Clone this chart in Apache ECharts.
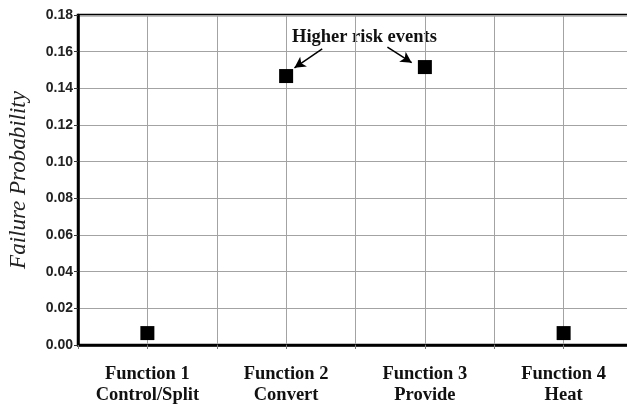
<!DOCTYPE html>
<html><head><meta charset="utf-8">
<script src="https://cdn.jsdelivr.net/npm/echarts@6/dist/echarts.min.js"></script>
<style>html,body{margin:0;padding:0;background:#fff}#c{width:627px;height:404px}</style>
</head><body><div id="c"></div>
<script>
const categories = ['Function 1\nControl/Split', 'Function 2\nConvert', 'Function 3\nProvide', 'Function 4\nHeat'];
const failureProbability = [0.0065, 0.1467, 0.1516, 0.0065];
const yTicks = {min: 0, max: 0.18, interval: 0.02};
const annotationText = 'Higher risk events';
// arrows in [gridSlot, value] coordinates (slot axis 0..8, two slots per category)
const arrows = [
  [[3.52, 0.1615], [3.12, 0.1512]],
  [[4.46, 0.1625], [4.81, 0.1540]]
];

const chart = echarts.init(document.getElementById('c'), null, {renderer: 'canvas'});
chart.setOption({
  animation: false,
  backgroundColor: '#fff',
  grid: {left: 78, top: 15, bottom: 59, right: -6, outerBoundsMode: 'none', containLabel: false,
    show: true, borderColor: '#000', borderWidth: 2.5, backgroundColor: 'transparent'},
  xAxis: [
    {type: 'category', data: categories, boundaryGap: true,
     axisLine: {show: true, lineStyle: {color: '#000', width: 2.5}},
     axisTick: {show: false}, splitLine: {show: false},
     axisLabel: {color: '#111', fontFamily: 'Liberation Serif', fontWeight: 'bold', fontSize: 18.5, lineHeight: 21, margin: 19}},
    {type: 'value', min: 0, max: categories.length * 2, interval: 1, position: 'bottom',
     axisLine: {show: false}, axisLabel: {show: false},
     axisTick: {show: true, length: 4, lineStyle: {color: '#777', width: 1}},
     splitLine: {show: true, lineStyle: {color: '#a3a3a3', width: 1}}}
  ],
  yAxis: {type: 'value', min: yTicks.min, max: yTicks.max, interval: yTicks.interval,
    name: 'Failure Probability', nameLocation: 'middle', nameGap: 48, nameRotate: 90,
    nameTextStyle: {fontFamily: 'Liberation Serif', fontStyle: 'italic', fontSize: 23, color: '#222'},
    axisLine: {show: true, lineStyle: {color: '#000', width: 2.5}},
    axisTick: {show: true, length: 4, lineStyle: {color: '#333'}},
    axisLabel: {color: '#222', fontFamily: 'Liberation Sans', fontWeight: 'bold', fontSize: 14, margin: 5,
      formatter: v => v.toFixed(2)},
    splitLine: {show: true, lineStyle: {color: '#a3a3a3', width: 1}}},
  series: [
    {type: 'scatter', xAxisIndex: 0, data: failureProbability, symbol: 'rect', symbolSize: 14,
     itemStyle: {color: '#000', opacity: 1}},
    {type: 'line', xAxisIndex: 1, data: [], silent: true,
     markLine: {silent: true, symbol: ['none', 'arrow'], symbolSize: [9, 11],
       label: {show: false},
       lineStyle: {color: '#000', width: 1.5, type: 'solid'},
       data: arrows.map(a => [{coord: a[0]}, {coord: a[1]}])}}
  ],
  graphic: [{type: 'text', left: 292, top: 28,
    style: {text: annotationText, font: 'bold 18.5px "Liberation Serif"', fill: '#111'}}]
});
</script></body></html>
